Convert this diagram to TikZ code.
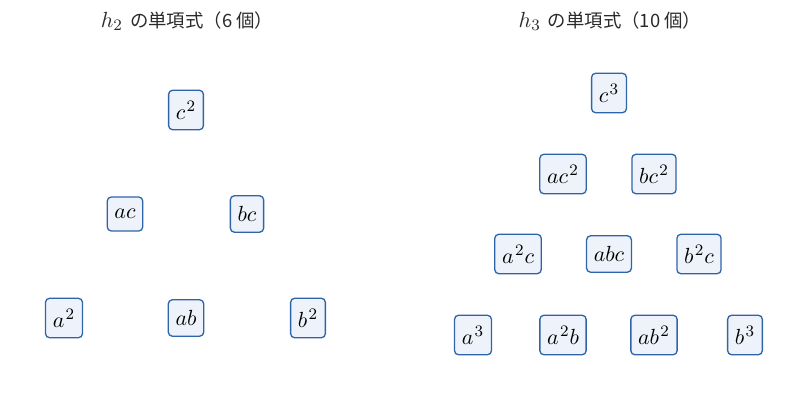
\documentclass[tikz,border=0pt]{standalone}
\usepackage{fontspec}
\newfontfamily\cjk{Noto Sans CJK JP}
\DeclareMathSizes{10.5}{10.5}{8.4}{6.5}
\DeclareMathSizes{11}{11}{8.4}{6.5}
\definecolor{boxline}{HTML}{2E64A8}
\definecolor{boxfill}{HTML}{EEF3FB}
\definecolor{titlecol}{HTML}{2A2A2A}
\newcommand{\pw}[2]{#1^{\mkern1.5mu #2}}
\begin{document}
\begin{tikzpicture}[x=0.5pt,y=-0.5pt,
  mono/.style={draw=boxline, fill=boxfill, line width=0.65pt, rounded corners=2pt,
    inner xsep=3.6pt, inner ysep=5.3pt, minimum height=17pt,
    font=\fontsize{10.5}{12}\selectfont},
  ttl/.style={text=titlecol, font=\fontsize{11}{13}\selectfont, inner sep=0pt}]
\useasboundingbox (0,0) rectangle (794,401);
% titles
\node[ttl] (t2) at (187,21) {$h_2$ {\cjk\fontsize{9.2}{11}\selectfont の単項式（6 個）}};
\node[ttl] (t3) at (610,21) {$h_3$ {\cjk\fontsize{9.2}{11}\selectfont の単項式（10 個）}};
% h2
\node[mono] (c2) at (186,110) {$\pw{c}{2}$};
\node[mono] (ac) at (125,214) {$ac$};
\node[mono] (bc) at (247,214) {$bc$};
\node[mono] (a2) at (64,318) {$\pw{a}{2}$};
\node[mono] (ab) at (186,318) {$ab$};
\node[mono] (b2) at (308,318) {$\pw{b}{2}$};
% h3
\node[mono] (c3) at (609,93) {$\pw{c}{3}$};
\node[mono] (ac2) at (563,174) {$a\pw{c}{2}$};
\node[mono] (bc2) at (654,174) {$b\pw{c}{2}$};
\node[mono] (a2c) at (518,254) {$\pw{a}{2}c$};
\node[mono] (abc) at (609,254) {$abc$};
\node[mono] (b2c) at (699,254) {$\pw{b}{2}c$};
\node[mono] (a3) at (473,335) {$\pw{a}{3}$};
\node[mono] (a2b) at (563,335) {$\pw{a}{2}b$};
\node[mono] (ab2) at (654,335) {$a\pw{b}{2}$};
\node[mono] (b3) at (745,335) {$\pw{b}{3}$};
\end{tikzpicture}
\end{document}
